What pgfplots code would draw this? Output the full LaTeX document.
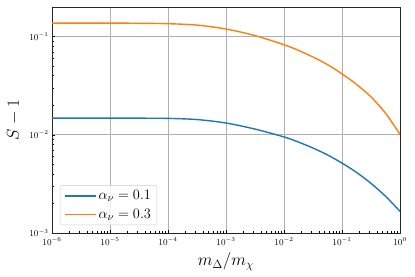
\documentclass[border=0pt]{standalone}
\usepackage{pgfplots}
\pgfplotsset{compat=1.18}
\definecolor{tabblue}{HTML}{1F77B4}
\definecolor{taborange}{HTML}{FF7F0E}
\begin{document}
\begin{tikzpicture}
\begin{axis}[
  scale only axis,
  width=348bp, height=226bp,
  xmode=log, ymode=log,
  xmin=1e-6, xmax=1, ymin=1e-3, ymax=0.2,
  xtick={1e-6,1e-5,1e-4,1e-3,1e-2,1e-1,1},
  ytick={1e-3,1e-2,1e-1},
  grid=major,
  major grid style={line width=0.6bp, draw=black!31},
  tick align=inside,
  xtick pos=bottom, ytick pos=left,
  major tick length=3.5bp, minor tick length=2bp,
  every tick/.style={black, line width=0.5bp},
  axis line style={line width=0.8bp, black!85},
  tick label style={font=\fontsize{9}{10}\selectfont},
  xticklabel style={yshift=-1bp},
  xlabel={$m_\Delta/m_\chi$},
  ylabel={$S-1$},
  label style={font=\fontsize{18}{20}\selectfont},
  xlabel style={at={(axis description cs:0.5,-0.128)}, anchor=center},
  ylabel style={at={(axis description cs:-0.11,0.5)}, anchor=center},
  legend style={at={(0.023,0.035)}, anchor=south west, draw=black!20,
    rounded corners=2bp, fill=white, fill opacity=0.8, draw opacity=1, text opacity=1,
    font=\fontsize{15}{17}\selectfont, row sep=4bp, inner xsep=4bp, inner ysep=3bp},
  legend cell align=left,
  legend image code/.code={\draw[#1, line width=1.4bp, opacity=1] (0bp,0bp) -- (31bp,0bp);},
]
\addplot[tabblue, line width=1.4bp, smooth] coordinates {
(1e-6,0.01479) (1e-5,0.01479) (3.162e-5,0.01476) (1e-4,0.01469) (3.162e-4,0.01429)
(1e-3,0.01318) (3.162e-3,0.01143) (1e-2,0.00951) (1.778e-2,0.00843) (3.162e-2,0.00733)
(5.623e-2,0.00624) (1e-1,0.00515) (1.778e-1,0.00414)
(3.162e-1,0.00320) (5.623e-1,0.00237) (1,0.00166)
};
\addlegendentry{$\alpha_\nu=0.1$}
\addplot[taborange, line width=1.4bp, smooth] coordinates {
(1e-6,0.1371) (1e-5,0.1371) (3.162e-5,0.1365) (1e-4,0.1352) (3.162e-4,0.1309)
(1e-3,0.1194) (3.162e-3,0.1023) (1e-2,0.0826) (1.778e-2,0.0723) (3.162e-2,0.0619)
(5.623e-2,0.0518) (1e-1,0.0417) (1.778e-1,0.0326)
(3.162e-1,0.0243) (5.623e-1,0.0166) (1,0.01009)
};
\addlegendentry{$\alpha_\nu=0.3$}
\end{axis}
\path (current axis.south west) +(-52bp,-44bp) (current axis.north east) +(15bp,7bp);
\end{tikzpicture}
\end{document}
